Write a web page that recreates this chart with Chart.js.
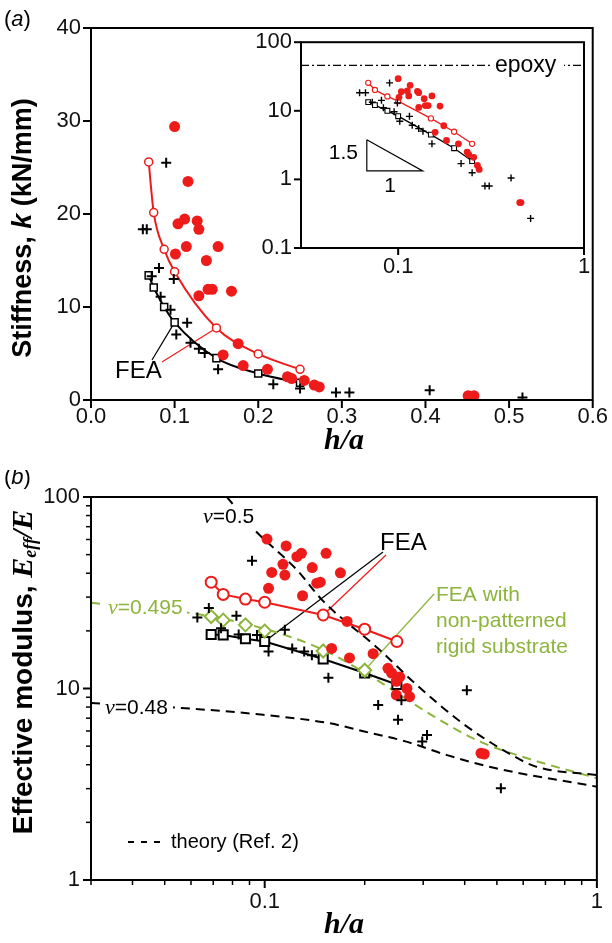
<!DOCTYPE html>
<html>
<head>
<meta charset="utf-8">
<script src="https://cdn.jsdelivr.net/npm/chart.js@4.4.0/dist/chart.umd.min.js"></script>
<style>
  body { margin: 0; background: #fff; width: 612px; height: 943px; position: relative; overflow: hidden; }
  canvas { position: absolute; }
</style>
</head>
<body>
<canvas id="chartA" width="612" height="470" style="left:0;top:0"></canvas>
<canvas id="chartInset" width="372" height="270" style="left:240px;top:20px"></canvas>
<canvas id="chartB" width="612" height="473" style="left:0;top:470px"></canvas>
<script>
'use strict';

// ---------- panel (a): stiffness k (kN/mm) vs h/a ----------
const feaHa = [0.069, 0.075, 0.0875, 0.1, 0.15, 0.2, 0.25];
const feaRedK = [25.6, 20.15, 16.2, 13.8, 7.75, 4.95, 3.3];
const feaBlackK = [13.4, 12.1, 10.0, 8.35, 4.5, 2.85, 1.85];

const redHa = [0.100, 0.116, 0.104, 0.112, 0.127, 0.129, 0.101, 0.114, 0.152, 0.138, 0.129, 0.140, 0.145,
               0.168, 0.158, 0.176, 0.182, 0.211, 0.235, 0.240, 0.255, 0.267, 0.273, 0.451, 0.458];
const redK = [29.4, 23.5, 18.95, 19.45, 19.25, 18.35, 15.7, 16.5, 16.5, 15.0, 11.2, 11.9, 11.9,
              11.7, 4.85, 6.05, 3.7, 3.3, 2.5, 2.3, 2.1, 1.6, 1.4, 0.46, 0.46];

const crossHa = [0.0899, 0.062, 0.0667, 0.0813, 0.0726, 0.099, 0.0833, 0.0951, 0.115, 0.102, 0.119,
                 0.129, 0.136, 0.152, 0.218, 0.250, 0.293, 0.309, 0.405, 0.516];
const crossK = [25.5, 18.35, 18.35, 14.2, 13.3, 13.0, 11.1, 9.7, 8.3, 7.05, 6.15,
                5.5, 5.05, 3.3, 1.7, 1.25, 0.8, 0.8, 1.05, 0.27];

const xTicksA = [0, 0.1, 0.2, 0.3, 0.4, 0.5, 0.6];
const yTicksA = [0, 10, 20, 30, 40];

// inset (log-log)
const epoxyK = 46;
const triHa = [0.0678, 0.0678, 0.1355, 0.0678];   // slope 1.5 triangle
const triK = [3.78, 1.33, 1.33, 3.78];
const xTicksInset = [0.1, 1];
const yTicksInset = [0.1, 1, 10, 100];

// ---------- panel (b): E_eff/E vs h/a ----------
const feaRedE = [35.9, 31.0, 29.3, 28.2, 24.2, 20.4, 17.6];
const feaBlackE = [19.15, 19.05, 18.2, 17.6, 14.25, 12.05, 10.5];
const rigidHa = [0.069, 0.075, 0.0875, 0.1, 0.15, 0.2];
const rigidE = [23.75, 22.75, 21.5, 19.95, 15.7, 12.45];

const redHaB = [0.1016, 0.116, 0.125, 0.129, 0.153, 0.1135, 0.105, 0.115, 0.139, 0.1435, 0.147, 0.169, 0.1027,
                0.130, 0.177, 0.159, 0.180, 0.212, 0.235, 0.241, 0.255, 0.249, 0.268, 0.273, 0.249, 0.448, 0.458];
const redE = [60.3, 55.5, 48.8, 50.8, 50.8, 44.5, 40.4, 39.1, 42.8, 35.5, 35.9, 40.2, 33.35,
              30.5, 22.4, 16.2, 14.45, 15.2, 12.75, 12.05, 11.5, 10.9, 10.0, 9.06, 9.25, 4.59, 4.55];

const crossHaB = [0.0916, 0.0627, 0.0679, 0.0822, 0.0739, 0.0835, 0.0948, 0.115, 0.1027, 0.121, 0.1315,
                  0.1387, 0.1555, 0.2196, 0.258, 0.252, 0.406, 0.308, 0.298, 0.514];
const crossE = [46.4, 23.45, 26.3, 23.95, 20.65, 19.15, 19.05, 20.24, 15.62, 16.2, 15.62,
                14.93, 11.37, 8.19, 8.69, 6.86, 9.78, 5.71, 5.28, 3.01];

// theory (Ref. 2) curves
const nu05Ha = [0.077, 0.0912, 0.125, 0.15, 0.222, 0.286, 0.394, 0.545, 0.655, 1.0];
const nu05E = [100, 70.0, 41.6, 28.6, 15.9, 10.48, 6.58, 4.57, 3.91, 3.53];
const nu0495Ha = [0.03, 0.0605, 0.1, 0.15, 0.217, 0.306, 0.433, 0.597, 1.0];
const nu0495E = [28.0, 24.7, 20.5, 15.9, 11.1, 7.57, 5.39, 4.40, 3.40];
const nu048Ha = [0.03, 0.0546, 0.099, 0.157, 0.198, 0.267, 0.352, 0.497, 1.0];
const nu048E = [8.39, 7.94, 7.29, 6.58, 5.98, 5.28, 4.50, 3.83, 3.07];

const xTicksB = [0.03, 0.04, 0.05, 0.06, 0.07, 0.08, 0.09, 0.1, 0.2, 0.3, 0.4, 0.5, 0.6, 0.7, 0.8, 0.9, 1];
const xLabelsB = [0.1, 1];
const yTicksB = [1, 2, 3, 4, 5, 6, 7, 8, 9, 10, 20, 30, 40, 50, 60, 70, 80, 90, 100];
const yLabelsB = [1, 10, 100];

// ---------- styling ----------
const RED = '#ee1b1b';
const GREEN = '#8db43c';
const SANS = '"Liberation Sans", Arial, sans-serif';
const SERIF = '"Liberation Serif", "Times New Roman", serif';
const TICK_FONT = { family: SANS, size: 22 };

function pts(xs, ys) {
  return xs.map((x, i) => ({ x, y: ys[i] }));
}

function fixTicks(values) {
  return (scale) => { scale.ticks = values.map(v => ({ value: v })); };
}

function logLabel(labelled) {
  return (v) => (labelled.some(l => Math.abs(l - v) < 1e-9) ? String(v) : '');
}

// text made of runs with different fonts
function drawRich(ctx, parts, x, y, align) {
  let w = 0;
  for (const p of parts) { ctx.font = p.f; w += ctx.measureText(p.t).width; }
  let cx = align === 'center' ? x - w / 2 : align === 'right' ? x - w : x;
  ctx.textAlign = 'left';
  ctx.textBaseline = 'middle';
  for (const p of parts) {
    ctx.font = p.f;
    ctx.fillStyle = p.c || '#000';
    ctx.fillText(p.t, cx, y + (p.dy || 0));
    cx += ctx.measureText(p.t).width;
  }
  return w;
}

function whiteBox(ctx, x, y, w, h) {
  ctx.fillStyle = '#fff';
  ctx.fillRect(x, y, w, h);
}

function px(chart, x, y) {
  return [chart.scales.x.getPixelForValue(x), chart.scales.y.getPixelForValue(y)];
}

function line(ctx, x1, y1, x2, y2, color, width) {
  ctx.beginPath();
  ctx.strokeStyle = color;
  ctx.lineWidth = width;
  ctx.moveTo(x1, y1);
  ctx.lineTo(x2, y2);
  ctx.stroke();
}

// box round the plot area + outward tick marks (short ones for unlabelled log ticks)
const framePlugin = {
  id: 'frame',
  beforeDraw(chart) {
    const { ctx, chartArea: a } = chart;
    ctx.save();
    ctx.fillStyle = '#fff';
    ctx.fillRect(a.left, a.top, a.right - a.left, a.bottom - a.top);
    ctx.restore();
  },
  afterDraw(chart, args, opts) {
    const { ctx, chartArea: a } = chart;
    ctx.save();
    ctx.strokeStyle = '#000';
    ctx.lineWidth = 2;
    ctx.strokeRect(a.left, a.top, a.right - a.left, a.bottom - a.top);
    for (const id of ['x', 'y']) {
      const s = chart.scales[id];
      s.ticks.forEach((t) => {
        const major = (t.label !== '' && t.label !== undefined);
        const len = major ? opts.major : opts.minor;
        const p = s.getPixelForValue(t.value);
        ctx.beginPath();
        ctx.lineWidth = major ? 2 : 1.5;
        if (id === 'x') { ctx.moveTo(p, a.bottom); ctx.lineTo(p, a.bottom + len); }
        else { ctx.moveTo(a.left, p); ctx.lineTo(a.left - len, p); }
        ctx.stroke();
      });
    }
    ctx.restore();
  }
};

function baseOptions(padding, xScale, yScale, frame) {
  return {
    responsive: false,
    animation: false,
    devicePixelRatio: 1,
    layout: { padding },
    plugins: { legend: { display: false }, tooltip: { enabled: false }, frame },
    scales: { x: xScale, y: yScale }
  };
}

function axis(extra) {
  return Object.assign({
    grid: { display: false, drawTicks: false },
    border: { display: false },
  }, extra);
}

// ---------- chart (a) ----------
const textA = {
  id: 'textA',
  beforeDatasetsDraw(chart) {
    const ctx = chart.ctx;
    ctx.save();
    // leaders from the FEA label
    const [bx, by] = px(chart, feaHa[3], feaBlackK[3]);
    const [rx, ry] = px(chart, feaHa[4], feaRedK[4]);
    line(ctx, 152, 360, bx, by, '#000', 1.2);
    line(ctx, 162, 362, rx, ry, RED, 1.2);
    ctx.restore();
  },
  afterDraw(chart) {
    const ctx = chart.ctx;
    ctx.save();
    drawRich(ctx, [{ t: '(', f: `22px ${SANS}` }, { t: 'a', f: `italic 22px ${SANS}` }, { t: ')', f: `22px ${SANS}` }], 4, 20, 'left');
    drawRich(ctx, [{ t: 'FEA', f: `24px ${SANS}` }], 115, 371, 'left');
    drawRich(ctx, [{ t: 'h/a', f: `bold italic 30px ${SERIF}` }], 344, 441, 'center');
    ctx.translate(24, 228);
    ctx.rotate(-Math.PI / 2);
    drawRich(ctx, [
      { t: 'Stiffness, ', f: `bold 27px ${SANS}` },
      { t: 'k', f: `bold italic 27px ${SANS}` },
      { t: ' (kN/mm)', f: `bold 27px ${SANS}` }
    ], 0, 0, 'center');
    ctx.restore();
  }
};

new Chart(document.getElementById('chartA'), {
  type: 'scatter',
  data: {
    datasets: [
      { data: pts(crossHa, crossK), pointStyle: 'cross', pointRadius: 5, pointBorderColor: '#000', pointBorderWidth: 2, order: 1 },
      { data: pts(redHa, redK), pointStyle: 'circle', pointRadius: 5.5, pointBackgroundColor: RED, pointBorderColor: RED, pointBorderWidth: 0, order: 2 },
      { data: pts(feaHa, feaRedK), showLine: true, cubicInterpolationMode: 'monotone', borderColor: RED, borderWidth: 2,
        pointStyle: 'circle', pointRadius: 4, pointBackgroundColor: '#fff', pointBorderColor: RED, pointBorderWidth: 1.5, order: 3 },
      { data: pts(feaHa, feaBlackK), showLine: true, cubicInterpolationMode: 'monotone', borderColor: '#000', borderWidth: 2,
        pointStyle: 'rect', pointRadius: 5, pointBackgroundColor: '#fff', pointBorderColor: '#000', pointBorderWidth: 1.5, order: 4 }
    ]
  },
  options: baseOptions({ top: 28, right: 14, left: 0, bottom: 0 },
    axis({ type: 'linear', min: 0, max: 0.6, afterFit(s) { s.height = 70; }, afterBuildTicks: fixTicks(xTicksA),
      ticks: { padding: 4, font: TICK_FONT, color: '#111', callback: v => v.toFixed(1) } }),
    axis({ type: 'linear', min: 0, max: 40, afterFit(s) { s.width = 91; }, afterBuildTicks: fixTicks(yTicksA),
      ticks: { padding: 10, font: TICK_FONT, color: '#111' } }),
    { major: 8, minor: 5 }),
  plugins: [framePlugin, textA]
});

// ---------- inset of (a), log-log ----------
const textInset = {
  id: 'textInset',
  afterDatasetsDraw(chart) {
    const ctx = chart.ctx;
    ctx.save();
    const [, ey] = px(chart, 1, epoxyK);
    whiteBox(ctx, 250, ey - 12, 74, 24);
    drawRich(ctx, [{ t: 'epoxy', f: `23px ${SANS}` }], 255, ey, 'left');
    drawRich(ctx, [{ t: '1.5', f: `21px ${SANS}` }], 118, 133, 'right');
    drawRich(ctx, [{ t: '1', f: `21px ${SANS}` }], 150, 166, 'center');
    ctx.restore();
  }
};

new Chart(document.getElementById('chartInset'), {
  type: 'scatter',
  data: {
    datasets: [
      { data: pts(crossHa, crossK), pointStyle: 'cross', pointRadius: 3.5, pointBorderColor: '#000', pointBorderWidth: 1.4, order: 1 },
      { data: pts(redHa, redK), pointStyle: 'circle', pointRadius: 3.4, pointBackgroundColor: RED, pointBorderColor: RED, pointBorderWidth: 0, order: 2 },
      { data: pts(feaHa, feaRedK), showLine: true, borderColor: RED, borderWidth: 1.3,
        pointStyle: 'circle', pointRadius: 2.6, pointBackgroundColor: '#fff', pointBorderColor: RED, pointBorderWidth: 1.1, order: 3 },
      { data: pts(feaHa, feaBlackK), showLine: true, borderColor: '#000', borderWidth: 1.3,
        pointStyle: 'rect', pointRadius: 3.4, pointBackgroundColor: '#fff', pointBorderColor: '#000', pointBorderWidth: 1.1, order: 4 },
      { data: [{ x: 0.03, y: epoxyK }, { x: 1, y: epoxyK }], showLine: true, borderColor: '#000', borderWidth: 1.2,
        borderDash: [8, 3, 2, 3], pointRadius: 0, order: 5 },
      { data: pts(triHa, triK), showLine: true, borderColor: '#000', borderWidth: 1.2, pointRadius: 0, order: 6 }
    ]
  },
  options: baseOptions({ top: 19, right: 28, left: 0, bottom: 0 },
    axis({ type: 'logarithmic', min: 0.03, max: 1, afterFit(s) { s.height = 42; }, afterBuildTicks: fixTicks(xTicksInset),
      ticks: { padding: 6, font: TICK_FONT, color: '#111', autoSkip: false, maxRotation: 0, callback: v => String(v) } }),
    axis({ type: 'logarithmic', min: 0.1, max: 100, afterFit(s) { s.width = 61; }, afterBuildTicks: fixTicks(yTicksInset),
      ticks: { padding: 9, font: TICK_FONT, color: '#111', autoSkip: false, callback: v => String(v) } }),
    { major: 7, minor: 4 }),
  plugins: [framePlugin, textInset]
});

// ---------- chart (b) ----------
const textB = {
  id: 'textB',
  beforeDatasetsDraw(chart) {
    const ctx = chart.ctx;
    ctx.save();
    const [bx, by] = px(chart, feaHa[3], feaBlackE[3]);
    const [rx, ry] = px(chart, feaHa[4], feaRedE[4]);
    const [gx, gy] = px(chart, rigidHa[5], rigidE[5]);
    line(ctx, 383, 82, bx, by, '#000', 1.2);
    line(ctx, 386, 85, rx, ry, RED, 1.2);
    line(ctx, 434, 124, gx, gy, GREEN, 1.2);
    ctx.restore();
  },
  afterDatasetsDraw(chart) {
    const ctx = chart.ctx;
    ctx.save();
    const nu = (c) => ({ t: 'ν', f: `italic 22px ${SERIF}`, c });
    whiteBox(ctx, 200, 36, 54, 22);
    drawRich(ctx, [nu('#000'), { t: '=0.5', f: `21px ${SANS}` }], 203, 47, 'left');
    whiteBox(ctx, 104, 127, 83, 22);
    drawRich(ctx, [nu(GREEN), { t: '=0.495', f: `21px ${SANS}`, c: GREEN }], 108, 138, 'left');
    whiteBox(ctx, 101, 227, 72, 22);
    drawRich(ctx, [nu('#000'), { t: '=0.48', f: `21px ${SANS}` }], 105, 238, 'left');
    ctx.restore();
  },
  afterDraw(chart) {
    const ctx = chart.ctx;
    ctx.save();
    drawRich(ctx, [{ t: '(', f: `22px ${SANS}` }, { t: 'b', f: `italic 22px ${SANS}` }, { t: ')', f: `22px ${SANS}` }], 4, 8, 'left');
    drawRich(ctx, [{ t: 'FEA', f: `24px ${SANS}` }], 380, 73, 'left');
    ['FEA with', 'non-patterned', 'rigid substrate'].forEach((s, i) => {
      drawRich(ctx, [{ t: s, f: `21px ${SANS}`, c: GREEN }], 436, 125 + i * 26, 'left');
    });
    // legend sample for the theory curves
    ctx.beginPath();
    ctx.setLineDash([6, 7]);
    ctx.strokeStyle = '#000';
    ctx.lineWidth = 2;
    ctx.moveTo(128, 372);
    ctx.lineTo(167, 372);
    ctx.stroke();
    ctx.setLineDash([]);
    drawRich(ctx, [{ t: 'theory (Ref. 2)', f: `20px ${SANS}` }], 171, 372, 'left');
    drawRich(ctx, [{ t: 'h/a', f: `bold italic 30px ${SERIF}` }], 344, 455, 'center');
    ctx.translate(24, 202);
    ctx.rotate(-Math.PI / 2);
    drawRich(ctx, [
      { t: 'Effective modulus, ', f: `bold 28px ${SANS}` },
      { t: 'E', f: `bold italic 30px ${SERIF}` },
      { t: 'eff', f: `bold italic 18px ${SERIF}`, dy: 7 },
      { t: '/E', f: `bold italic 30px ${SERIF}` }
    ], 0, 0, 'center');
    ctx.restore();
  }
};

const theory = (xs, ys, color, order) => ({
  data: pts(xs, ys), showLine: true, cubicInterpolationMode: 'monotone', borderColor: color, borderWidth: 2,
  borderDash: [9, 6], pointRadius: 0, order
});

new Chart(document.getElementById('chartB'), {
  type: 'scatter',
  data: {
    datasets: [
      { data: pts(crossHaB, crossE), pointStyle: 'cross', pointRadius: 5, pointBorderColor: '#000', pointBorderWidth: 2, order: 1 },
      { data: pts(redHaB, redE), pointStyle: 'circle', pointRadius: 5.5, pointBackgroundColor: RED, pointBorderColor: RED, pointBorderWidth: 0, order: 2 },
      { data: pts(feaHa, feaRedE), showLine: true, borderColor: RED, borderWidth: 2,
        pointStyle: 'circle', pointRadius: 5.5, pointBackgroundColor: '#fff', pointBorderColor: RED, pointBorderWidth: 2, order: 3 },
      { data: pts(rigidHa, rigidE), pointStyle: 'rectRot', pointRadius: 6.5, pointBackgroundColor: '#fff', pointBorderColor: GREEN, pointBorderWidth: 2, order: 4 },
      { data: pts(feaHa, feaBlackE), showLine: true, borderColor: '#000', borderWidth: 2,
        pointStyle: 'rect', pointRadius: 6.4, pointBackgroundColor: '#fff', pointBorderColor: '#000', pointBorderWidth: 2, order: 5 },
      theory(nu05Ha, nu05E, '#000', 6),
      theory(nu0495Ha, nu0495E, GREEN, 7),
      theory(nu048Ha, nu048E, '#000', 8)
    ]
  },
  options: baseOptions({ top: 27, right: 14, left: 0, bottom: 0 },
    axis({ type: 'logarithmic', min: 0.03, max: 1, afterFit(s) { s.height = 63; }, afterBuildTicks: fixTicks(xTicksB),
      ticks: { padding: 9, font: TICK_FONT, color: '#111', autoSkip: false, maxRotation: 0, callback: logLabel(xLabelsB) } }),
    axis({ type: 'logarithmic', min: 1, max: 100, afterFit(s) { s.width = 91; }, afterBuildTicks: fixTicks(yTicksB),
      ticks: { padding: 11, font: TICK_FONT, color: '#111', autoSkip: false, callback: logLabel(yLabelsB) } }),
    { major: 8, minor: 5 }),
  plugins: [framePlugin, textB]
});
</script>
</body>
</html>
